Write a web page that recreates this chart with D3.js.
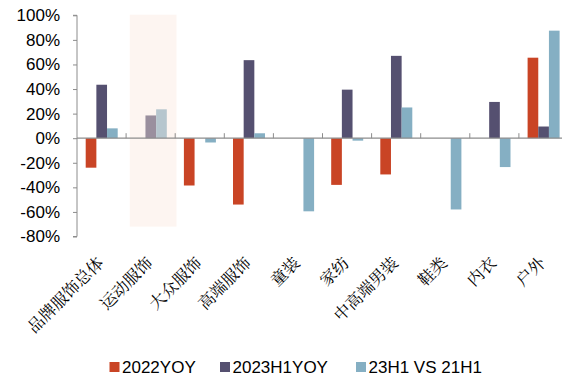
<!DOCTYPE html>
<html>
<head>
<meta charset="utf-8">
<script src="https://cdn.jsdelivr.net/npm/d3@7"></script>
<style>
  html, body { margin: 0; padding: 0; background: #fff; }
  svg { display: block; }
</style>
</head>
<body>
<svg id="chart" width="562" height="375"></svg>
<script>
// Apparel segments
const categories = ["品牌服饰总体", "运动服饰", "大众服饰", "高端服饰", "童装", "家纺", "中高端男装", "鞋类", "内衣", "户外"];
const seriesNames = ["2022YOY", "2023H1YOY", "23H1 VS 21H1"];
// growth rates in %, null where no value is shown
const yoy2022 = [-24, null, -38.5, -54, null, -38, -29.5, null, null, 65.5];
const yoy2023H1 = [43.5, 18.5, null, 63.5, null, 39.5, 67, null, 29.5, 9.5];
const vs21H1 = [8, 23.5, -3.5, 4, -59.5, -2, 25, -58, -23.5, 87.5];
const yTicks = [-80, -60, -40, -20, 0, 20, 40, 60, 80, 100];
const highlighted = "运动服饰";

const seriesValues = [yoy2022, yoy2023H1, vs21H1];
const colors = ["#c94425", "#555070", "#85afc3"];

const svg = d3.select("#chart");
const left = 77, bandW = 49.1;

const x0 = d3.scaleBand().domain(categories).range([left, left + bandW * categories.length]).padding(0);
const x1 = d3.scaleBand().domain(seriesNames).range([8.7, 40.7]).padding(0);
const y = d3.scaleLinear().domain([-80, 100]).range([236.5, 15.3]);

const font = "'Liberation Sans', Arial, sans-serif";

// bars
const rows = [];
categories.forEach((c, i) => {
  seriesNames.forEach((s, j) => {
    const v = seriesValues[j][i];
    if (v !== null && v !== undefined) rows.push({ c, s, v, color: colors[j] });
  });
});

svg.append("g").selectAll("rect").data(rows).join("rect")
  .attr("x", d => x0(d.c) + x1(d.s))
  .attr("width", x1.bandwidth())
  .attr("y", d => y(Math.max(0, d.v)))
  .attr("height", d => Math.abs(y(d.v) - y(0)))
  .attr("fill", d => d.color);

// translucent highlight band over one category
svg.append("rect")
  .attr("x", x0(highlighted) + 3.7)
  .attr("width", bandW - 2.4)
  .attr("y", y(100) - 0.6)
  .attr("height", y(-72) - y(100) + 0.6)
  .attr("fill", "rgb(251,232,222)")
  .attr("opacity", 0.42);

// y axis
const yAxis = d3.axisLeft(y).tickValues(yTicks).tickSize(4).tickPadding(13)
  .tickFormat(d => d + "%");
const gy = svg.append("g").attr("transform", `translate(${left},0)`).call(yAxis);
gy.select(".domain").attr("stroke", "#8c8c8c").attr("d", `M-4,${y(100)}H0V${y(-80)}H-4`);
gy.selectAll(".tick line").attr("stroke", "#8c8c8c");
gy.selectAll(".tick text").attr("font-family", font).attr("font-size", 17).attr("fill", "#000");

// zero line with upward ticks between categories
svg.append("line")
  .attr("x1", left).attr("x2", 562)
  .attr("y1", y(0)).attr("y2", y(0))
  .attr("stroke", "#8c8c8c").attr("stroke-width", 1.3);
svg.append("g").selectAll("line").data(categories.slice(1)).join("line")
  .attr("x1", d => x0(d)).attr("x2", d => x0(d))
  .attr("y1", y(0)).attr("y2", y(0) - 5)
  .attr("stroke", "#8c8c8c");

// category labels, rotated
svg.append("g").selectAll("text").data(categories).join("text")
  .attr("transform", d => `translate(${x0(d) + bandW / 2 + 3},${264}) rotate(-45)`)
  .attr("text-anchor", "end")
  .attr("font-family", "'Noto Serif CJK SC', 'Noto Sans CJK SC', serif")
  .attr("font-size", 16.5)
  .attr("fill", "#000")
  .text(d => d);

// legend
const legendX = [109.5, 220, 356];
const lg = svg.append("g").selectAll("g").data(seriesNames).join("g")
  .attr("transform", (d, i) => `translate(${legendX[i]},362)`);
lg.append("rect").attr("width", 10).attr("height", 10).attr("fill", (d, i) => colors[i]);
lg.append("text").attr("x", 12.5).attr("y", 10.5)
  .attr("font-family", font).attr("font-size", 17).attr("fill", "#000")
  .text(d => d);
</script>
</body>
</html>
